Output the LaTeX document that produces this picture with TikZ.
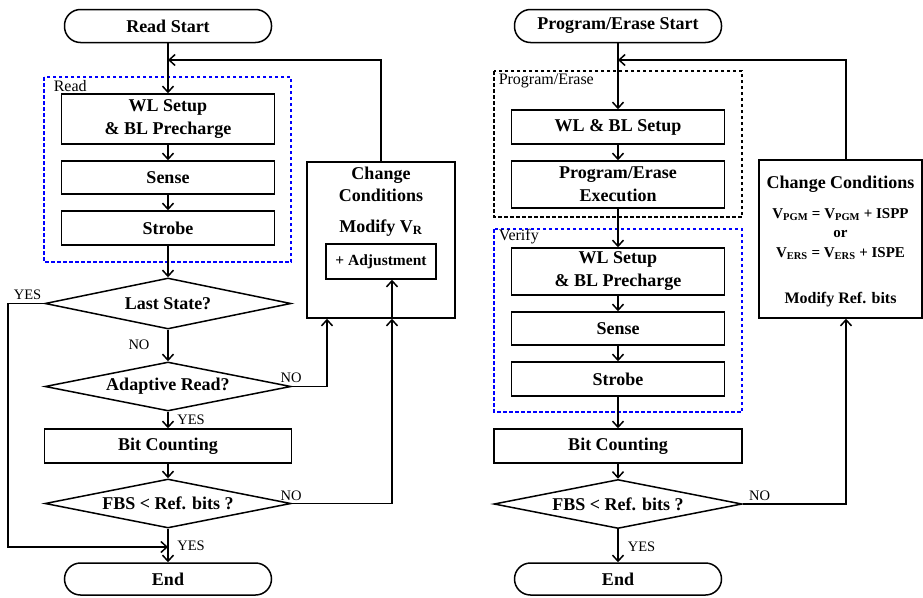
\documentclass[tikz,border=0pt]{standalone}
\usepackage{fontspec}
\setmainfont{Liberation Serif}
\usetikzlibrary{shapes.geometric,arrows.meta}

\begin{document}
\begin{tikzpicture}[x=1pt,y=-1pt,
  line width=1.5pt,
  txt/.style={font=\fontsize{18}{23}\selectfont\bfseries},
  stepbox/.style={draw,rectangle,txt,inner sep=0pt,align=center},
  term/.style={draw,rectangle,rounded corners=16pt,txt,inner sep=0pt,
               minimum width=207pt,minimum height=33pt},
  decide/.style={draw,diamond,shape aspect=5,txt,inner sep=0pt,minimum width=246pt,minimum height=50pt},
  arr/.style={-{Straight Barb[length=6pt,width=11pt,line width=1.5pt]}},
  lbl/.style={font=\fontsize{14.5}{16}\selectfont,inner sep=0pt},
  grp/.style={font=\fontsize{16}{18}\selectfont,inner sep=0pt,anchor=west},
  bluegroup/.style={draw=blue,dash pattern=on 3.5pt off 2.5pt},
  blackgroup/.style={draw=black,dash pattern=on 3.5pt off 2.5pt},
]
\useasboundingbox (0,0) rectangle (923,597);

% ---------------- Read flow ----------------
\draw[bluegroup] (44,77) rectangle (291,262);
\node[grp] (readlbl) at (53,86) {Read};

\node[term] (rs) at (168,26) {Read Start};
\node[stepbox,minimum width=213pt,minimum height=50pt] (wl) at (168,119) {WL Setup\\\& BL Precharge};
\node[stepbox,minimum width=213pt,minimum height=33pt] (sense) at (168,177.5) {Sense};
\node[stepbox,minimum width=213pt,minimum height=34pt] (strobe) at (168,228) {Strobe};
\node[decide,minimum height=51pt] (last) at (168,303.5) {Last State?};
\node[decide,minimum height=49pt] (adapt) at (168,386.5) {Adaptive Read?};
\node[stepbox,minimum width=247pt,minimum height=34pt] (bit) at (168,446) {Bit Counting};
\node[decide,minimum height=49pt] (fbs) at (168,503.5) {FBS < Ref. bits ?};
\node[term,minimum height=32pt] (end) at (168,579) {End};

\node[draw,rectangle,minimum width=148pt,minimum height=156pt] (chg) at (381,240) {};
\node[txt,align=center,inner sep=0pt] (chgtxt) at (381,184) {Change\\[-1pt]Conditions};
\node[txt,inner sep=0pt] (modvr) at (381,228) {Modify V\textsubscript{R}};
\node[draw,rectangle,inner sep=0pt,minimum width=110pt,minimum height=35pt,
      font=\fontsize{15.5}{18}\selectfont\bfseries] (adj) at (381,261.5) {+ Adjustment};

\coordinate (joinL) at (168,60);
\coordinate (yesL) at (8,547);
\coordinate (inL) at (168,547);

\draw (rs) -- (joinL);
\draw[arr] (joinL) -- (wl);
\draw[arr] (wl) -- (sense);
\draw[arr] (sense) -- (strobe);
\draw[arr] (strobe) -- (last);
\draw[arr] (last) -- (adapt);
\draw[arr] (adapt) -- (bit);
\draw[arr] (bit) -- (fbs);
\draw[arr] (fbs) -- (end);
\draw[arr] (chg.north) |- (joinL);
\draw[arr] (last.west) -| (yesL) -- (inL);
\draw[arr] (adapt.east) -| ([xshift=-54pt]chg.south);
\draw[arr] (fbs.east) -| ([xshift=11pt]chg.south);
\draw[arr] ([xshift=11pt]chg.south) -- ([xshift=11pt]adj.south);

\node[lbl] (yes1) at (27.5,295) {YES};
\node[lbl] (no1) at (139,345) {NO};
\node[lbl] (no2) at (291,378) {NO};
\node[lbl] (yes2) at (191,420) {YES};
\node[lbl] (no3) at (291,496) {NO};
\node[lbl] (yes3) at (191,546) {YES};

% ---------------- Program/Erase flow ----------------
\draw[blackgroup] (494,71) rectangle (742,217);
\node[grp] (pelbl) at (498,81) {Program/Erase};
\draw[bluegroup] (494,229) rectangle (742,412);
\node[grp] (vlbl) at (498,237) {Verify};

\node[term] (ps) at (618,26) {Program/Erase Start};
\node[stepbox,minimum width=213pt,minimum height=34pt] (wlbl) at (618,127) {WL \& BL Setup};
\node[stepbox,minimum width=213pt,minimum height=47pt] (pe) at (618,184.5) {Program/Erase\\Execution};
\node[stepbox,minimum width=213pt,minimum height=47pt] (vwl) at (618,271.5) {WL Setup\\\& BL Precharge};
\node[stepbox,minimum width=213pt,minimum height=33pt] (vsense) at (618,328.5) {Sense};
\node[stepbox,minimum width=213pt,minimum height=34pt] (vstrobe) at (618,379) {Strobe};
\node[stepbox,minimum width=248pt,minimum height=34pt] (vbit) at (618,446) {Bit Counting};
\node[decide,minimum width=248pt,minimum height=49pt] (vfbs) at (618,504) {FBS < Ref. bits ?};
\node[term,minimum height=32pt] (vend) at (618,579) {End};

\node[draw,rectangle,minimum width=163pt,minimum height=158pt] (vchg) at (840.5,239) {};
\node[txt,inner sep=0pt] (vchgtxt) at (840.5,184) {Change Conditions};
\node[inner sep=0pt,align=center,font=\fontsize{15}{19.5}\selectfont\bfseries] (formula) at (840.5,234)
  {V\textsubscript{PGM} = V\textsubscript{PGM} + ISPP\\or\\V\textsubscript{ERS} = V\textsubscript{ERS} + ISPE};
\node[inner sep=0pt,font=\fontsize{16}{18}\selectfont\bfseries] (modref) at (840.5,300) {Modify Ref. bits};

\coordinate (joinR) at (618,60);

\draw (ps) -- (joinR);
\draw[arr] (joinR) -- (wlbl);
\draw[arr] (wlbl) -- (pe);
\draw[arr] (pe) -- (vwl);
\draw[arr] (vwl) -- (vsense);
\draw[arr] (vsense) -- (vstrobe);
\draw[arr] (vstrobe) -- (vbit);
\draw[arr] (vbit) -- (vfbs);
\draw[arr] (vfbs) -- (vend);
\draw[arr] ([xshift=5.5pt]vchg.north) |- (joinR);
\draw[arr] (vfbs.east) -| ([xshift=5.5pt]vchg.south);

\node[lbl] (vno) at (759.5,496) {NO};
\node[lbl] (vyes) at (641.5,547) {YES};
\end{tikzpicture}
\end{document}
